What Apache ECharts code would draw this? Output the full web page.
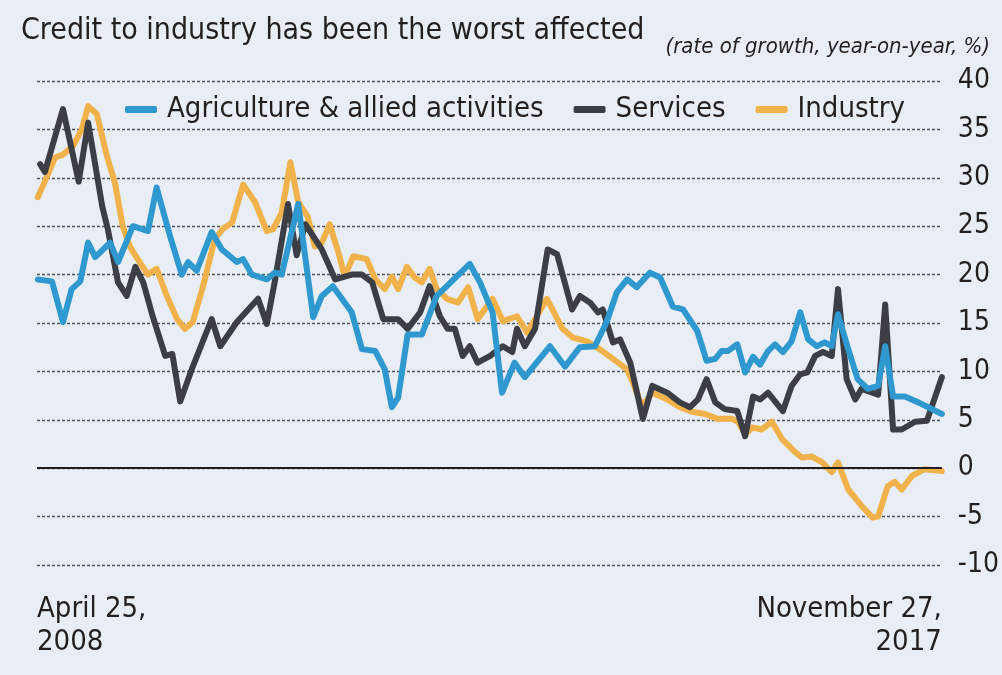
<!DOCTYPE html>
<html>
<head>
<meta charset="utf-8">
<script src="https://cdn.jsdelivr.net/npm/echarts@6/dist/echarts.min.js"></script>
<style>
html,body{margin:0;padding:0;background:#e9eef6;}
#c{width:1002px;height:675px;}
</style>
</head>
<body>
<div id="c"></div>
<script>
// Months elapsed since April 25, 2008 (x position) and growth rate (%)
const agriMonths = [0.1,1.9,3.3,4.4,5.5,6.5,7.4,9.3,10.3,12.2,14.1,15.2,16.9,18.4,19.2,20.3,22.2,23.5,25.4,26.2,27.3,29.2,30.2,31.1,33.2,35.1,36.2,37.6,40.0,41.3,43.0,44.2,45.1,45.9,47.1,48.9,50.8,55.0,56.3,57.9,59.1,60.7,62.0,65.2,67.1,69.0,70.9,72.4,73.7,75.0,76.2,77.9,79.2,80.8,82.1,83.9,85.1,86.2,87.0,87.8,89.0,90.0,91.0,91.9,92.9,93.8,94.8,95.9,97.0,98.0,99.1,100.1,101.0,101.8,103.1,104.3,105.6,106.9,107.8,108.8,110.3,112.0,115];
const agriValues = [19.5,19.3,15.1,18.5,19.3,23.3,21.8,23.3,21.3,25,24.5,29,24,20,21.3,20.4,24.4,22.6,21.3,21.6,20,19.5,20.2,20,27.3,15.6,17.8,18.8,16.1,12.3,12.1,10.2,6.3,7.3,13.8,13.8,17.8,21.1,19.2,16.1,7.8,10.9,9.4,12.6,10.5,12.5,12.6,15.1,18.2,19.5,18.7,20.2,19.7,16.7,16.4,14.2,11.1,11.3,12.1,12.1,12.8,9.9,11.5,10.7,12.1,12.8,12,13.1,16.1,13.3,12.6,13,12.6,15.9,12.3,9.2,8.2,8.5,12.6,7.4,7.4,6.8,5.6];

const servMonths = [0.4,1.0,3.3,5.3,6.5,8.3,9.0,10.3,11.4,12.5,13.5,14.7,16.3,17.2,18.2,19.8,22.2,23.3,25.4,28.1,29.2,30.2,31.9,33.0,34.1,36.2,37.9,40.0,41.3,42.6,44.0,45.9,47.1,48.7,49.9,51.2,52.2,53.1,54.1,55.0,56.0,57.6,59.2,60.4,61.0,62.0,63.3,64.9,66.1,68.0,69.0,70.3,71.3,71.9,73.2,74.1,75.4,77.0,78.2,80.1,81.7,83.0,84.0,85.1,86.2,87.4,89.0,90.0,91.0,91.9,92.9,94.8,95.9,97.0,97.9,98.9,99.9,101.0,101.8,102.9,104.0,104.8,106.9,107.8,108.8,109.9,111.6,113.1,115];
const servValues = [31.4,30.6,37.1,29.6,35.7,27,24.7,19.2,17.8,20.8,19.2,15.7,11.6,11.8,6.9,10.5,15.4,12.6,15.1,17.5,14.9,19.2,27.3,22.0,25.2,22.6,19.5,20,20,19.2,15.4,15.4,14.4,16.1,18.8,15.7,14.4,14.4,11.6,12.6,10.9,11.6,12.6,12,14.4,12.6,14.4,22.6,22.1,16.4,17.8,17.1,16.1,16.4,13,13.3,10.9,5.1,8.5,7.8,6.8,6.3,7.1,9.2,6.8,6.1,5.9,3.3,7.4,7.1,7.8,5.9,8.5,9.7,9.9,11.6,12,11.6,18.5,9.2,7.1,8.2,7.6,16.9,4,4,4.8,4.9,9.4];

const indMonths = [0.1,1.3,2.3,3.3,4.6,5.7,6.5,7.6,8.9,9.9,10.9,11.8,12.8,14.1,15.2,16.5,17.8,18.8,19.8,21.1,22.6,23.6,24.8,26.2,27.7,29.2,30.0,31.1,32.2,33.2,34.4,35.3,36.2,37.2,38.3,39.1,40.2,41.9,43.0,44.2,45.1,45.9,47.0,48.0,48.9,49.9,50.8,52.1,53.5,54.8,56.0,57.9,59.2,61.0,62.3,64.8,66.8,68.1,69.9,71.5,73.2,75.0,75.7,76.9,78.2,80.1,81.7,83.4,84.9,86.5,88.3,89.1,90.0,90.9,92.1,93.4,94.7,96.3,97.2,98.5,99.8,101.0,101.8,103.1,104.8,106.2,106.9,108.1,109.0,109.9,111.2,112.8,115];
const indValues = [28,30.2,32.1,32.4,33.3,35,37.4,36.6,32.2,29.5,25,22.9,21.6,20,20.6,17.8,15.4,14.4,15.1,18.8,23.7,24.7,25.4,29.3,27.5,24.5,24.7,26.4,31.6,27.5,26,22.9,23.3,25.2,22.3,19.8,21.9,21.6,19.5,18.5,19.8,18.5,20.8,19.7,19.2,20.6,18.5,17.5,17.1,18.7,15.4,17.5,15.2,15.7,14,17.5,14.4,13.5,13.1,12.3,11.3,10.2,8.9,6.4,7.8,7.1,6.3,5.8,5.6,5.1,5.1,4.8,3.5,4.2,4,4.8,3,1.7,1.1,1.2,0.6,-0.4,0.6,-2.2,-3.9,-5.1,-5,-1.9,-1.4,-2.2,-0.8,-0.1,-0.3];

const seriesNames = ['Agriculture & allied activities', 'Services', 'Industry'];
const xTickLabels = ['April 25,\n2008', 'November 27,\n2017'];
const xRange = [0, 115];
const yTicks = { min: -10, max: 40, step: 5 };

const FONT = "'Liberation Sans Narrow', 'DejaVu Sans Condensed', 'Roboto', sans-serif";
const COLORS = { agri: '#2f98cf', serv: '#3b3e44', ind: '#f1b24c' };

function zip(xs, ys) { return xs.map((x, i) => [x, ys[i]]); }

const chart = echarts.init(document.getElementById('c'), null, { renderer: 'canvas' });

const lineStyleBase = { width: 6, cap: 'round', join: 'round' };

chart.setOption({
  backgroundColor: '#e9eef6',
  animation: false,
  title: [
    { text: 'Credit to industry has been the worst affected', left: 16, top: 11,
      textStyle: { fontFamily: FONT, fontSize: 30, fontWeight: 'normal', color: '#231f20' } },
    { text: '(rate of growth, year-on-year, %)', right: 7, top: 31,
      textStyle: { fontFamily: FONT, fontSize: 22, fontStyle: 'italic', fontWeight: 'normal', color: '#231f20' } }
  ],
  legend: {
    data: seriesNames,
    left: 120, top: 90, width: 860,
    itemWidth: 32, itemHeight: 7, itemGap: 30,
    icon: 'roundRect',
    textStyle: { fontFamily: FONT, fontSize: 29, color: '#231f20', padding: [0, 0, 0, 5] }
  },
  grid: { left: 37, right: 60, top: 81, bottom: 110, containLabel: false },
  xAxis: {
    type: 'value', min: xRange[0], max: xRange[1], interval: xRange[1] - xRange[0],
    axisLine: { show: false, onZero: false }, axisTick: { show: false }, splitLine: { show: false },
    axisLabel: {
      margin: 28, fontFamily: FONT, fontSize: 29, lineHeight: 33, color: '#231f20',
      alignMinLabel: 'left', alignMaxLabel: 'right', verticalAlign: 'top',
      formatter: v => (v === xRange[0] ? xTickLabels[0] : (v === xRange[1] ? xTickLabels[1] : ''))
    }
  },
  yAxis: {
    type: 'value', position: 'right', min: yTicks.min, max: yTicks.max, interval: yTicks.step,
    axisLine: { show: false }, axisTick: { show: false },
    axisLabel: { margin: 16, fontFamily: FONT, fontSize: 28, color: '#231f20', align: 'left' },
    splitLine: { show: true, lineStyle: { color: '#4f5258', width: 1.3, type: [3, 2] } }
  },
  series: [
    { name: seriesNames[2], type: 'line', data: zip(indMonths, indValues), showSymbol: false,
      lineStyle: Object.assign({ color: COLORS.ind }, lineStyleBase), itemStyle: { color: COLORS.ind }, z: 3,
      markLine: { silent: true, symbol: 'none', label: { show: false }, animation: false,
        lineStyle: { color: '#231f20', width: 2, type: 'solid' }, data: [{ yAxis: 0 }] } },
    { name: seriesNames[1], type: 'line', data: zip(servMonths, servValues), showSymbol: false,
      lineStyle: Object.assign({ color: COLORS.serv }, lineStyleBase), itemStyle: { color: COLORS.serv }, z: 4 },
    { name: seriesNames[0], type: 'line', data: zip(agriMonths, agriValues), showSymbol: false,
      lineStyle: Object.assign({ color: COLORS.agri }, lineStyleBase), itemStyle: { color: COLORS.agri }, z: 5 }
  ]
});
</script>
</body>
</html>
